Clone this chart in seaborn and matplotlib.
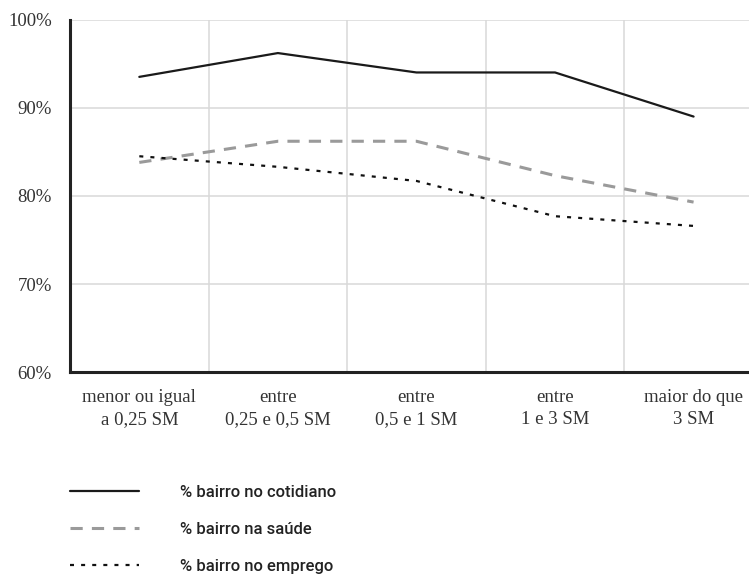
import numpy as np
import pandas as pd
import matplotlib
matplotlib.use('Agg')
import matplotlib.pyplot as plt
import seaborn as sns
from matplotlib.ticker import FixedLocator, FuncFormatter

# faixas de renda (salario minimo)
categorias = ['menor ou igual\na 0,25 SM', 'entre\n0,25 e 0,5 SM', 'entre\n0,5 e 1 SM',
              'entre\n1 e 3 SM', 'maior do que\n3 SM']
cotidiano = [93.5, 96.2, 94.0, 94.0, 89.0]
saude = [83.8, 86.2, 86.2, 82.3, 79.3]
emprego = [84.5, 83.3, 81.7, 77.7, 76.6]
nomes = ['% bairro no cotidiano', '% bairro na saúde', '% bairro no emprego']

df = pd.DataFrame({'pos': list(range(len(categorias))) * 3,
                   'valor': cotidiano + saude + emprego,
                   'serie': [nomes[0]] * 5 + [nomes[1]] * 5 + [nomes[2]] * 5})

sns.set_style('white')
plt.rcParams['font.family'] = ['Liberation Serif', 'DejaVu Serif']

fig = plt.figure(figsize=(7.49, 5.75), dpi=100)
ax = fig.add_axes([0.0935, 0.3525, 1 - 0.0935, 0.966 - 0.3525])

estilos = {nomes[0]: dict(color='#1a1a1a', lw=1.6, ls='-'),
           nomes[1]: dict(color='#9a9a9a', lw=2.2, ls=(0, (4, 3))),
           nomes[2]: dict(color='#111111', lw=1.6, ls=(0, (1.8, 3.2)))}
for nome in nomes:
    sub = df[df['serie'] == nome]
    sns.lineplot(data=sub, x='pos', y='valor', ax=ax, label=nome,
                 color=estilos[nome]['color'], linewidth=estilos[nome]['lw'],
                 linestyle=estilos[nome]['ls'], legend=False)

ax.set_xlim(-0.5, 4.40)
ax.set_ylim(60, 100)
ax.set_xticks(range(len(categorias)))
ax.set_xticklabels(categorias, linespacing=1.4)
ax.xaxis.set_minor_locator(FixedLocator([0.5, 1.5, 2.5, 3.5]))
ax.set_yticks([60, 70, 80, 90, 100])
ax.yaxis.set_major_formatter(FuncFormatter(lambda v, p: f'{v:.0f}%'))
ax.set_xlabel('')
ax.set_ylabel('')

ax.grid(False)
ax.yaxis.grid(True, color='#d9d9d9', lw=1.1)
ax.xaxis.grid(True, which='minor', color='#d9d9d9', lw=1.1)
ax.set_axisbelow(True)

for s in ['top', 'right']:
    ax.spines[s].set_visible(False)
for s in ['left', 'bottom']:
    ax.spines[s].set_color('#222222')
    ax.spines[s].set_linewidth(2.2)

ax.tick_params(axis='x', which='major', length=0, pad=12, labelsize=13.5, colors='#333333')
ax.tick_params(axis='x', which='minor', length=6, width=1.1, color='#d9d9d9')
ax.tick_params(axis='y', length=4, width=2, color='#222222', pad=9, labelsize=13.5,
               labelcolor='#333333')

handles, labels = ax.get_legend_handles_labels()
leg = fig.legend(handles, labels, loc='upper left', frameon=False,
                 handlelength=4.1, handletextpad=2.45, labelspacing=1.32,
                 prop={'family': 'Roboto', 'size': 12, 'weight': 'medium'})
leg.set_bbox_to_anchor((0.074, 1 - 470 / 575), transform=fig.transFigure)
for t in leg.get_texts():
    t.set_color('#222222')

fig.savefig('out.png', dpi=100)
